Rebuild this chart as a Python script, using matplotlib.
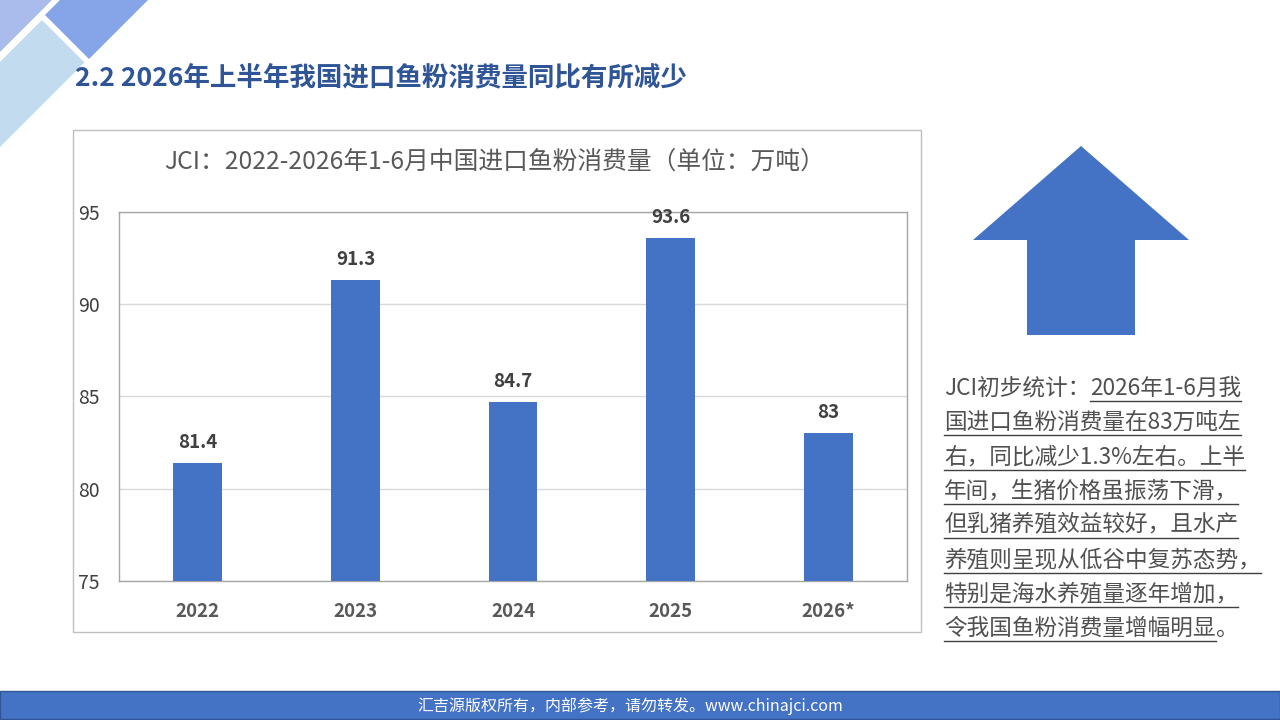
import matplotlib

matplotlib.use('Agg')
import matplotlib.pyplot as plt
from matplotlib.patches import Polygon, Rectangle
from matplotlib.lines import Line2D

plt.rcParams['font.family'] = ['Noto Sans CJK SC', 'DejaVu Sans']

# data
years = ['2022', '2023', '2024', '2025', '2026*']
consumption = [81.4, 91.3, 84.7, 93.6, 83]
value_labels = ['81.4', '91.3', '84.7', '93.6', '83']
y_ticks = [75, 80, 85, 90, 95]

header = '2.2 2026年上半年我国进口鱼粉消费量同比有所减少'
chart_title = 'JCI：2022-2026年1-6月中国进口鱼粉消费量（单位：万吨）'
footer = '汇吉源版权所有，内部参考，请勿转发。www.chinajci.com'
note_lead = 'JCI初步统计：'
note_lines = ['2026年1-6月我',
              '国进口鱼粉消费量在83万吨左',
              '右，同比减少1.3%左右。上半',
              '年间，生猪价格虽振荡下滑，',
              '但乳猪养殖效益较好，且水产',
              '养殖则呈现从低谷中复苏态势，',
              '特别是海水养殖量逐年增加，',
              '令我国鱼粉消费量增幅明显']
note_tail = '。'

W, H = 1280, 720
blue = '#4472C4'
text_grey = '#404040'

fig = plt.figure(figsize=(W / 100, H / 100), dpi=100)


def fx(x):
    return x / W


def fy(y):
    return 1 - y / H


def add_poly(pts, color, z=-1):
    fig.patches.append(Polygon([(fx(x), fy(y)) for x, y in pts], closed=True,
                               facecolor=color, edgecolor='none',
                               transform=fig.transFigure, zorder=z))


# corner decoration
add_poly([(0, 0), (52, 0), (0, 52)], '#A9BCEC')
add_poly([(60, 0), (148, 0), (89, 59), (45, 15)], '#86A5E8')
add_poly([(42, 20), (84.5, 62.5), (0, 147), (0, 62)], '#C3DBEF')

# header
fig.text(fx(75), fy(78), header, fontsize=19.1, fontweight='bold',
         color='#2F5597', ha='left', va='center')

# chart frame
fig.patches.append(Rectangle((fx(73), fy(632)), (921 - 73) / W, (632 - 130) / H,
                             facecolor='white', edgecolor='#BFBFBF', linewidth=1,
                             transform=fig.transFigure, zorder=-1))
fig.text(fx(495), fy(162), chart_title, fontsize=17.8, color='#595959',
         ha='center', va='center')

ax = fig.add_axes([fx(119), fy(581), (907 - 119) / W, (581 - 212) / H])
x = list(range(len(years)))
ax.bar(x, consumption, width=0.31, color=blue, zorder=3)
for xi, v, lab in zip(x, consumption, value_labels):
    ax.annotate(lab, (xi, v), xytext=(0, 8), textcoords='offset points',
                ha='center', va='bottom', fontsize=13.5, fontweight='bold',
                color=text_grey)
ax.set_xlim(-0.5, len(years) - 0.5)
ax.set_ylim(75, 95)
ax.set_yticks(y_ticks)
ax.set_xticks(x)
ax.set_xticklabels(years)
ax.tick_params(axis='both', length=0)
ax.tick_params(axis='y', pad=14, labelsize=14, labelcolor=text_grey)
ax.tick_params(axis='x', pad=15, labelsize=13.5, labelcolor='#595959')
for lab in ax.get_xticklabels():
    lab.set_fontweight('bold')
ax.grid(axis='y', color='#D9D9D9', linewidth=1, zorder=0)
for s in ax.spines.values():
    s.set_color('#A6A6A6')
    s.set_linewidth(1)

# up arrow
add_poly([(1081, 146), (1189, 240), (1135, 240), (1135, 335),
          (1027, 335), (1027, 240), (973, 240)], blue, z=1)

# note text with underlines
fig.canvas.draw()
renderer = fig.canvas.get_renderer()
note_kw = dict(fontsize=16.3, color='#505050', ha='left', va='center',
               fontweight='light')
x0 = 944
for i, line in enumerate(note_lines):
    yc = 388 + 34.3 * i
    start = x0
    if i == 0:
        t0 = fig.text(fx(x0), fy(yc), note_lead, **note_kw)
        start = t0.get_window_extent(renderer).x1
    t = fig.text(start / W, fy(yc), line, **note_kw)
    ext = t.get_window_extent(renderer)
    fig.lines.append(Line2D([start / W, ext.x1 / W], [fy(yc + 13)] * 2,
                            color=text_grey, linewidth=1,
                            transform=fig.transFigure))
    if i == len(note_lines) - 1:
        fig.text(ext.x1 / W, fy(yc), note_tail, **note_kw)

# footer
fig.patches.append(Rectangle((0, fy(719)), 1, (719 - 691) / H, facecolor=blue,
                             edgecolor='#2F5597', linewidth=1,
                             transform=fig.transFigure, zorder=-1))
fig.text(fx(630), fy(706), footer, fontsize=11.5, color='white',
         ha='center', va='center')

fig.savefig('out.png', dpi=100)
